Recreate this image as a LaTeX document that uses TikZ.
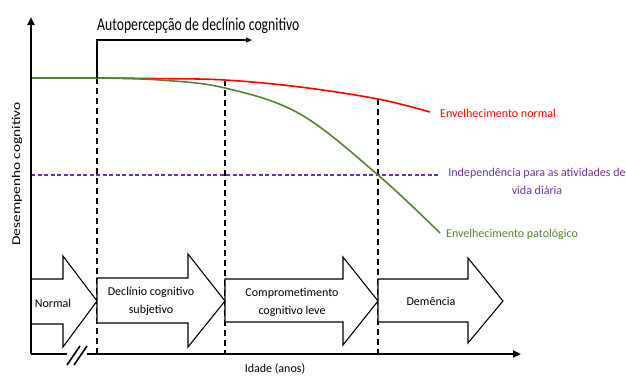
\documentclass[tikz,border=0pt]{standalone}
\usepackage{fontspec}
\setmainfont{Carlito}
\usetikzlibrary{arrows.meta}
\definecolor{cred}{RGB}{255,0,0}
\definecolor{cgreen}{RGB}{84,130,53}
\definecolor{cpurple}{RGB}{112,48,160}
\tikzset{
  axisline/.style={line width=2.4pt},
  guide/.style={line width=1.3pt, dash pattern=on 6pt off 4pt},
  blockarrow/.style={draw, line width=1.1pt, fill=white, line join=miter},
  curve/.style={line width=1.6pt},
  lbl/.style={inner sep=0pt, font=\fontsize{12}{14.5}\selectfont},
}
\begin{document}
\begin{tikzpicture}[x=1pt,y=-1pt]
\useasboundingbox (0,0) rectangle (626,376);

% coordinates
\coordinate (origin) at (31,354);
\coordinate (ytop) at (31,17);
\coordinate (xleftend) at (67,354);
\coordinate (xrightstart) at (87,354);
\coordinate (xend) at (521,354);
\coordinate (start) at (31,78);
\coordinate (k1) at (97,78);
\coordinate (k1top) at (97,40);
\coordinate (autoend) at (252,40);
\coordinate (r2) at (225,80);
\coordinate (r3) at (378,99);
\coordinate (g3) at (378,175);
\coordinate (b1) at (97,354);
\coordinate (b2) at (225,354);
\coordinate (b3) at (378,354);
\coordinate (pstart) at (31,175);
\coordinate (pend) at (440,175);

% dashed guides
\draw[guide] (k1) -- (b1);
\draw[guide] (r2) -- (b2);
\draw[guide] (r3) -- (b3);

% purple line
\draw[cpurple, line width=1.3pt, dash pattern=on 4pt off 2.5pt] (pstart) -- (pend);

% curves
\draw[cred, curve] (start) -- (k1)
  plot[smooth, tension=0.6] coordinates {(97,78) (160,78.6) (225,80) (300,87) (378,99) (430,112)};
\draw[cgreen, curve] (start) -- (k1)
  plot[smooth, tension=0.6] coordinates {(97,78) (160,80) (225,88) (300,114) (378,175) (440,233)};

% block arrows
\draw[blockarrow] (31,279) -- (63,279) -- (63,256) -- (97,301) -- (63,347) -- (63,324) -- (31,324) -- cycle;
\draw[blockarrow] (97,278) -- (188,278) -- (188,254) -- (225,301) -- (188,347) -- (188,323) -- (97,323) -- cycle;
\draw[blockarrow] (225,279) -- (343,279) -- (343,257) -- (378,301) -- (343,345) -- (343,322) -- (225,322) -- cycle;
\draw[blockarrow] (378,279) -- (468,279) -- (468,258) -- (503,301) -- (468,343) -- (468,322) -- (378,322) -- cycle;

% axes
\draw[axisline, -{Triangle[length=8pt,width=7pt]}] (origin) -- (ytop);
\draw[axisline] (origin) -- (xleftend);
\draw[axisline, -{Triangle[length=8pt,width=7pt]}] (xrightstart) -- (xend);
\draw[line width=1.6pt] (67,365) -- (80,346);
\draw[line width=1.6pt] (74,365) -- (87,346);

% autopercepcao arrow
\draw[line width=1.2pt, -{Triangle[length=6pt,width=5pt]}] (k1) -- (k1top) -- (autoend);

% labels
\node[lbl, anchor=base west] (auto) at (97,30) {\scalebox{1}[1.32]{\fontsize{13.7}{16}\selectfont Autopercepção de declínio cognitivo}};
\node[lbl, anchor=west, text=cred] (normal) at (440,113) {Envelhecimento normal};
\node[lbl, align=center, text=cpurple, font=\fontsize{12}{18}\selectfont] (indep) at (537,181) {Independência para as atividades de\\vida diária};
\node[lbl, anchor=west, text=cgreen] (pato) at (446,234) {Envelhecimento patológico};
\node[lbl] (s1) at (53,303) {Normal};
\node[lbl, align=center, font=\fontsize{12}{18}\selectfont] (s2) at (151,301) {Declínio cognitivo\\subjetivo};
\node[lbl, align=center, font=\fontsize{12}{18}\selectfont] (s3) at (292,302) {Comprometimento\\cognitivo leve};
\node[lbl] (s4) at (431,301) {Demência};
\node[lbl] (xlab) at (275,369) {Idade (anos)};
\node[lbl, rotate=90] (ylab) at (17,174) {\scalebox{1.28}[1]{Desempenho cognitivo}};
\end{tikzpicture}
\end{document}
